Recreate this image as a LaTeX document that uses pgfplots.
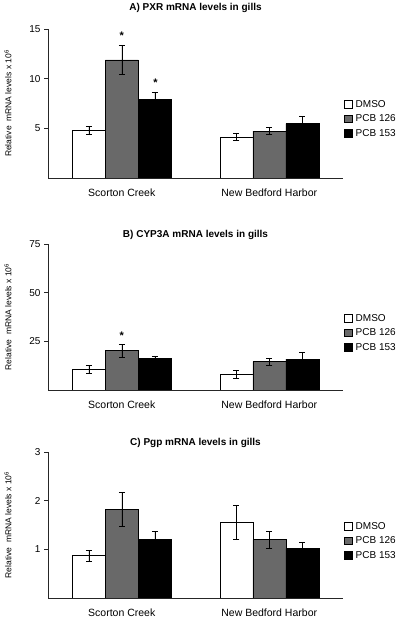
\documentclass[border=0pt]{standalone}
\usepackage{fontspec}
\setmainfont{Liberation Sans}
\usepackage{pgfplots}
\pgfplotsset{compat=1.18}
\definecolor{midgray}{RGB}{105,105,105}
\pgfplotsset{
 panel/.style={
   scale only axis, width=295pt, xmin=0, xmax=2, ymin=0,
   axis x line=bottom, axis y line=left,
   axis line style={-, black!85, line width=0.6pt},
   xtick={0.5,1.5}, xticklabels={Scorton Creek, New Bedford Harbor},
   x tick style={draw=none}, y tick style={black!85, line width=0.6pt},
   tick align=outside, major tick length=4pt,
   ybar=0pt, bar width=33pt,
   tick label style={font=\fontsize{10}{12}\selectfont},
   x tick label style={font=\fontsize{10.5}{12}\selectfont, yshift=-3pt},
   /pgf/number format/assume math mode=true,
   ylabel={Relative\ \ mRNA levels x 10\textsuperscript{6}},
   ylabel style={at={(axis description cs:-0.136,0.5)}, anchor=center, font=\fontsize{8.5}{10}\selectfont},
   legend style={draw=none, fill=none, font=\fontsize{10}{12}\selectfont, anchor=west, row sep=2pt, inner sep=1pt, cells={anchor=west}},
   legend image code/.code={\draw[#1, line width=0.5pt] (0pt,-3.5pt) rectangle (7.5pt,4pt); \path (9pt,0pt);},
   error bars/y dir=both, error bars/y explicit,
   error bars/error bar style={black, line width=0.5pt},
   error bars/error mark options={rotate=90, mark size=3pt, black, line width=0.5pt},
   title style={font=\fontsize{10}{12}\selectfont\bfseries, at={(0.5,1)}, anchor=center},
 },
}
\begin{document}
\begin{tikzpicture}
\useasboundingbox (0,0) rectangle (400pt,620pt);
% Panel A
\begin{axis}[panel, at={(48pt,442pt)}, anchor=south west, height=149pt,
  ymax=15, ytick={5,10,15}, title={A) PXR mRNA levels in gills}, title style={yshift=15pt},
  legend style={at={(1.0,0.396)}}]
\addplot[fill=white, draw=black, line width=0.5pt] coordinates {(0.5,4.8) +- (0,0.4) (1.5,4.13) +- (0,0.35)};
\addplot[fill=midgray, draw=black, line width=0.5pt] coordinates {(0.5,11.9) +- (0,1.45) (1.5,4.73) +- (0,0.37)};
\addplot[fill=black, draw=black, line width=0.5pt] coordinates {(0.5,7.95) +- (0,0.67) (1.5,5.47) +- (0,0.72)};
\legend{DMSO, PCB 126, PCB 153}
\node[font=\bfseries\fontsize{11}{12}\selectfont] at (axis cs:0.5,14.35) {*};
\node[font=\bfseries\fontsize{11}{12}\selectfont] at (axis cs:0.729,9.6) {*};
\end{axis}
% Panel B
\begin{axis}[panel, at={(48pt,230pt)}, anchor=south west, height=146pt,
  ymax=75, ytick={25,50,75}, title={B) CYP3A mRNA levels in gills}, title style={yshift=3pt},
  legend style={at={(1.0,0.39)}}]
\addplot[fill=white, draw=black, line width=0.5pt] coordinates {(0.5,10.6) +- (0,2.0) (1.5,8.0) +- (0,2.0)};
\addplot[fill=midgray, draw=black, line width=0.5pt] coordinates {(0.5,20.2) +- (0,3.2) (1.5,14.6) +- (0,1.9)};
\addplot[fill=black, draw=black, line width=0.5pt] coordinates {(0.5,16.3) +- (0,1.2) (1.5,15.8) +- (0,3.5)};
\legend{DMSO, PCB 126, PCB 153}
\node[font=\bfseries\fontsize{11}{12}\selectfont] at (axis cs:0.5,27.8) {*};
\end{axis}
% Panel C
\begin{axis}[panel, at={(48pt,22pt)}, anchor=south west, height=146pt,
  ymax=3, ytick={1,2,3}, title={C) Pgp mRNA levels in gills}, title style={yshift=3pt},
  legend style={at={(1.0,0.39)}}]
\addplot[fill=white, draw=black, line width=0.5pt] coordinates {(0.5,0.87) +- (0,0.11) (1.5,1.55) +- (0,0.35)};
\addplot[fill=midgray, draw=black, line width=0.5pt] coordinates {(0.5,1.82) +- (0,0.35) (1.5,1.2) +- (0,0.17)};
\addplot[fill=black, draw=black, line width=0.5pt] coordinates {(0.5,1.2) +- (0,0.17) (1.5,1.02) +- (0,0.12)};
\legend{DMSO, PCB 126, PCB 153}
\end{axis}
\end{tikzpicture}
\end{document}
